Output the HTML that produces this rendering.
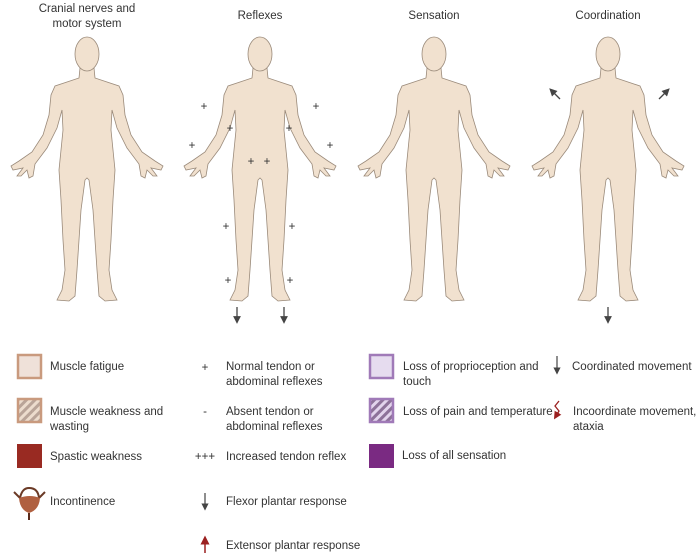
<!DOCTYPE html>
<html><head><style>
body{margin:0;width:697px;height:555px;background:#fff;font-family:"Liberation Sans",sans-serif;overflow:hidden}
svg{position:absolute;left:0;top:0}
text{font-family:"Liberation Sans",sans-serif;font-size:11.5px;fill:#333}
</style></head><body>
<svg width="697" height="555" viewBox="0 0 697 555">
<defs>
<g id="body" fill="#f1e1cf" stroke="#9a8a7a" stroke-width="0.8">
<path d="M-7,68 L-8,78 L-20,82 L-32,86 L-36,95 L-38,115 L-44,135 L-55,152 L-68,161 L-76,166 L-74,170 L-64,168 L-70,176 L-66,176 L-60,170 L-58,178 L-54,176 L-52,164 L-40,148 L-30,128 L-25,110 L-24,130 L-26,150 L-28,170 L-26,200 L-24,240 L-22,270 L-25,290 L-30,300 L-18,301 L-12,296 L-10,270 L-8,240 L-6,210 L-2,180 L0,178 L2,180 L6,210 L8,240 L10,270 L12,296 L18,301 L30,300 L25,290 L22,270 L24,240 L26,200 L28,170 L26,150 L24,130 L25,110 L30,128 L40,148 L52,164 L54,176 L58,178 L60,170 L66,176 L70,176 L64,168 L74,170 L76,166 L68,161 L55,152 L44,135 L38,115 L36,95 L32,86 L20,82 L8,78 L7,68 Z"/>
<ellipse cx="0" cy="54" rx="12" ry="17"/>
</g>
<marker id="ag" markerWidth="6" markerHeight="6" refX="3" refY="3" orient="auto"><path d="M0,0 L6,3 L0,6 Z" fill="#444"/></marker>
<marker id="ar" markerWidth="6" markerHeight="6" refX="3" refY="3" orient="auto"><path d="M0,0 L6,3 L0,6 Z" fill="#9b2020"/></marker>
<pattern id="hb" width="6" height="6" patternUnits="userSpaceOnUse" patternTransform="rotate(45)"><rect width="6" height="6" fill="#ecdccd"/><rect width="3" height="6" fill="#b9a498"/></pattern>
<pattern id="hp" width="6" height="6" patternUnits="userSpaceOnUse" patternTransform="rotate(45)"><rect width="6" height="6" fill="#e2d4ec"/><rect width="3" height="6" fill="#8d7299"/></pattern>
</defs>
<text x="87" y="12" text-anchor="middle">Cranial nerves and</text>
<text x="87" y="27" text-anchor="middle">motor system</text>
<text x="260" y="19" text-anchor="middle">Reflexes</text>
<text x="434" y="19" text-anchor="middle">Sensation</text>
<text x="608" y="19" text-anchor="middle">Coordination</text>
<use href="#body" x="87" y="0"/>
<use href="#body" x="260" y="0"/>
<use href="#body" x="434" y="0"/>
<use href="#body" x="608" y="0"/>
<g font-size="11" fill="#333">
<text x="204" y="110" text-anchor="middle">+</text><text x="316" y="110" text-anchor="middle">+</text>
<text x="192" y="149" text-anchor="middle">+</text><text x="330" y="149" text-anchor="middle">+</text>
<text x="230" y="132" text-anchor="middle">+</text><text x="289" y="132" text-anchor="middle">+</text>
<text x="251" y="165" text-anchor="middle">+</text><text x="267" y="165" text-anchor="middle">+</text>
<text x="226" y="230" text-anchor="middle">+</text><text x="292" y="230" text-anchor="middle">+</text>
<text x="228" y="284" text-anchor="middle">+</text><text x="290" y="284" text-anchor="middle">+</text>
</g>
<g stroke="#444" stroke-width="1.3">
<line x1="237" y1="307" x2="237" y2="320" marker-end="url(#ag)"/>
<line x1="284" y1="307" x2="284" y2="320" marker-end="url(#ag)"/>
<line x1="608" y1="307" x2="608" y2="320" marker-end="url(#ag)"/>
<line x1="560" y1="99" x2="552" y2="91" marker-end="url(#ag)"/>
<line x1="659" y1="99" x2="667" y2="91" marker-end="url(#ag)"/>
</g>
<!-- legend col 1 -->
<rect x="18" y="355" width="23" height="23" fill="#efe1d9" stroke="#c99a7e" stroke-width="2.5"/>
<text x="50" y="370">Muscle fatigue</text>
<rect x="18" y="399" width="23" height="23" fill="url(#hb)" stroke="#c99a7e" stroke-width="2.5"/>
<text x="50" y="415">Muscle weakness and</text><text x="50" y="430">wasting</text>
<rect x="17" y="444" width="25" height="24" fill="#992a22"/>
<text x="50" y="460">Spastic weakness</text>
<path d="M14,492 L20,498 Q22,488 29,488 Q38,488 39,498 L45,492" fill="none" stroke="#6b3a26" stroke-width="2"/>
<path d="M19,498 Q20,510 29,513 Q39,510 40,498 Q30,494 19,498Z" fill="#b06040"/>
<line x1="29" y1="513" x2="29" y2="520" stroke="#5a2a1a" stroke-width="2"/>
<text x="50" y="505">Incontinence</text>
<!-- col 2 -->
<text x="205" y="371" text-anchor="middle" font-size="13">+</text>
<text x="226" y="370">Normal tendon or</text><text x="226" y="385">abdominal reflexes</text>
<text x="205" y="415" text-anchor="middle" fill="#9b2020" font-size="13">-</text>
<text x="226" y="415">Absent tendon or</text><text x="226" y="430">abdominal reflexes</text>
<text x="205" y="460" text-anchor="middle" fill="#9b2020">+++</text>
<text x="226" y="460">Increased tendon reflex</text>
<line x1="205" y1="493" x2="205" y2="507" stroke="#444" stroke-width="1.2" marker-end="url(#ag)"/>
<text x="226" y="505">Flexor plantar response</text>
<line x1="205" y1="553" x2="205" y2="540" stroke="#9b2020" stroke-width="1.5" marker-end="url(#ar)"/>
<text x="226" y="549">Extensor plantar response</text>
<!-- col 3 -->
<rect x="370" y="355" width="23" height="23" fill="#e6dcef" stroke="#a07ab8" stroke-width="2.5"/>
<text x="403" y="370">Loss of proprioception and</text><text x="403" y="385">touch</text>
<rect x="370" y="399" width="23" height="23" fill="url(#hp)" stroke="#a07ab8" stroke-width="2.5"/>
<text x="403" y="415">Loss of pain and temperature</text>
<rect x="369" y="444" width="25" height="24" fill="#7a2a82"/>
<text x="402" y="459">Loss of all sensation</text>
<!-- col 4 -->
<line x1="557" y1="356" x2="557" y2="371" stroke="#444" stroke-width="1.2" marker-end="url(#ag)"/>
<text x="572" y="370">Coordinated movement</text>
<path d="M559,401 L555,406 L559,411 L556,416" fill="none" stroke="#9b2020" stroke-width="1.3" marker-end="url(#ar)"/>
<text x="573" y="415">Incoordinate movement,</text><text x="573" y="430">ataxia</text>
</svg>
</body></html>
